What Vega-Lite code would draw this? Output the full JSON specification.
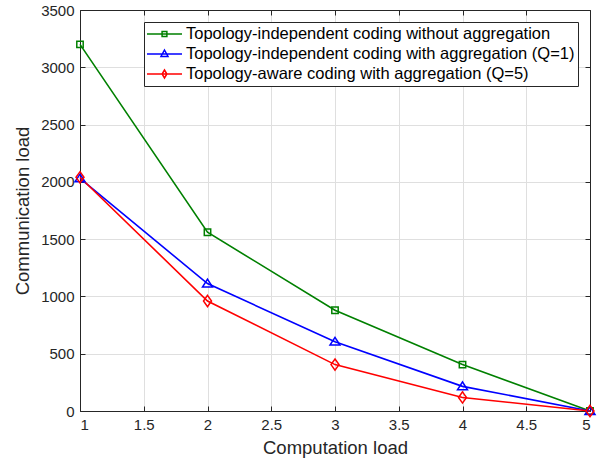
{
  "$schema": "https://vega.github.io/schema/vega-lite/v6.json",
  "autosize": {"type": "none"},
  "padding": {"left": 80, "top": 10, "right": 16, "bottom": 51},
  "width": 510,
  "height": 401,
  "background": "white",
  "config": {
    "font": "Liberation Sans",
    "view": {"stroke": "#262626", "strokeWidth": 1},
    "axis": {
      "domainColor": "#262626",
      "tickColor": "#262626",
      "labelColor": "#262626",
      "titleColor": "#262626",
      "gridColor": "#dfdfdf",
      "gridWidth": 1,
      "labelFontSize": 15,
      "titleFontSize": 18.5,
      "titleFontWeight": "normal",
      "tickSize": -5,
      "labelPadding": 11
    },
    "legend": {
      "title": null,
      "orient": "top-right",
      "offset": 12,
      "padding": 3,
      "strokeColor": "#262626",
      "fillColor": "white",
      "symbolSize": 256,
      "symbolStrokeWidth": 1.5,
      "symbolOpacity": 1,
      "labelFontSize": 16.5,
      "labelColor": "#000000",
      "labelOffset": 21,
      "rowPadding": 2,
      "labelLimit": 600
    }
  },
  "data": {
    "values": [
      {"load": 1, "comm": 3200, "series": "Topology-independent coding without aggregation"},
      {"load": 2, "comm": 1560, "series": "Topology-independent coding without aggregation"},
      {"load": 3, "comm": 880, "series": "Topology-independent coding without aggregation"},
      {"load": 4, "comm": 405, "series": "Topology-independent coding without aggregation"},
      {"load": 5, "comm": 0, "series": "Topology-independent coding without aggregation"},
      {"load": 1, "comm": 2030, "series": "Topology-independent coding with aggregation (Q=1)"},
      {"load": 2, "comm": 1112, "series": "Topology-independent coding with aggregation (Q=1)"},
      {"load": 3, "comm": 605, "series": "Topology-independent coding with aggregation (Q=1)"},
      {"load": 4, "comm": 215, "series": "Topology-independent coding with aggregation (Q=1)"},
      {"load": 5, "comm": 0, "series": "Topology-independent coding with aggregation (Q=1)"},
      {"load": 1, "comm": 2040, "series": "Topology-aware coding with aggregation (Q=5)"},
      {"load": 2, "comm": 960, "series": "Topology-aware coding with aggregation (Q=5)"},
      {"load": 3, "comm": 405, "series": "Topology-aware coding with aggregation (Q=5)"},
      {"load": 4, "comm": 118, "series": "Topology-aware coding with aggregation (Q=5)"},
      {"load": 5, "comm": 0, "series": "Topology-aware coding with aggregation (Q=5)"}
    ]
  },
  "layer": [
    {
      "mark": {"type": "line", "strokeWidth": 1.6},
      "encoding": {
        "x": {
          "field": "load", "type": "quantitative",
          "scale": {"domain": [1, 5], "nice": false, "zero": false},
          "axis": {"title": "Computation load", "values": [1, 1.5, 2, 2.5, 3, 3.5, 4, 4.5, 5], "format": "~g", "titlePadding": 6}
        },
        "y": {
          "field": "comm", "type": "quantitative",
          "scale": {"domain": [0, 3500], "nice": false},
          "axis": {"title": "Communication load", "values": [0, 500, 1000, 1500, 2000, 2500, 3000, 3500], "format": "d", "titlePadding": 8}
        },
        "color": {
          "field": "series", "type": "nominal",
          "scale": {
            "domain": ["Topology-independent coding without aggregation", "Topology-independent coding with aggregation (Q=1)", "Topology-aware coding with aggregation (Q=5)"],
            "range": ["#008000", "#0000ff", "#ff0000"]
          },
          "legend": null
        }
      }
    },
    {
      "mark": {"type": "point", "filled": false, "strokeWidth": 1.5, "opacity": 1},
      "encoding": {
        "x": {"field": "load", "type": "quantitative", "axis": {"orient": "top", "labels": false, "title": null, "grid": false, "values": [1, 1.5, 2, 2.5, 3, 3.5, 4, 4.5, 5]}},
        "y": {"field": "comm", "type": "quantitative", "axis": {"orient": "right", "labels": false, "title": null, "grid": false, "values": [0, 500, 1000, 1500, 2000, 2500, 3000, 3500]}},
        "color": {
          "field": "series", "type": "nominal",
          "scale": {
            "domain": ["Topology-independent coding without aggregation", "Topology-independent coding with aggregation (Q=1)", "Topology-aware coding with aggregation (Q=5)"],
            "range": ["#008000", "#0000ff", "#ff0000"]
          },
          "legend": null
        },
        "shape": {
          "field": "series", "type": "nominal",
          "scale": {
            "domain": ["Topology-independent coding without aggregation", "Topology-independent coding with aggregation (Q=1)", "Topology-aware coding with aggregation (Q=5)"],
            "range": ["M-0.8,-0.8H0.8V0.8H-0.8Z", "M0,-1.1L1.25,0.85H-1.25Z", "M0,-1.4L1,0L0,1.4L-1,0Z"]
          },
          "legend": null
        },
        "size": {"value": 64}
      }
    },
    {
      "mark": {"type": "point", "filled": false, "opacity": 0},
      "encoding": {
        "x": {"field": "load", "type": "quantitative", "axis": null},
        "y": {"field": "comm", "type": "quantitative", "axis": null},
        "color": {
          "field": "series", "type": "nominal",
          "scale": {
            "domain": ["Topology-independent coding without aggregation", "Topology-independent coding with aggregation (Q=1)", "Topology-aware coding with aggregation (Q=5)"],
            "range": ["#008000", "#0000ff", "#ff0000"]
          }
        },
        "shape": {
          "field": "series", "type": "nominal",
          "scale": {
            "domain": ["Topology-independent coding without aggregation", "Topology-independent coding with aggregation (Q=1)", "Topology-aware coding with aggregation (Q=5)"],
            "range": [
              "M-1.125,0H3.25M0.76,-0.3H1.36V0.3H0.76Z",
              "M-1.125,0H3.25M1.06,-0.5L1.5,0.3H0.62Z",
              "M-1.125,0H3.25M1.06,-0.5L1.36,0L1.06,0.5L0.76,0Z"
            ]
          }
        }
      }
    }
  ],
  "resolve": {
    "scale": {"shape": "independent", "color": "independent"},
    "axis": {"x": "independent", "y": "independent"},
    "legend": {"shape": "independent", "color": "independent"}
  }
}
